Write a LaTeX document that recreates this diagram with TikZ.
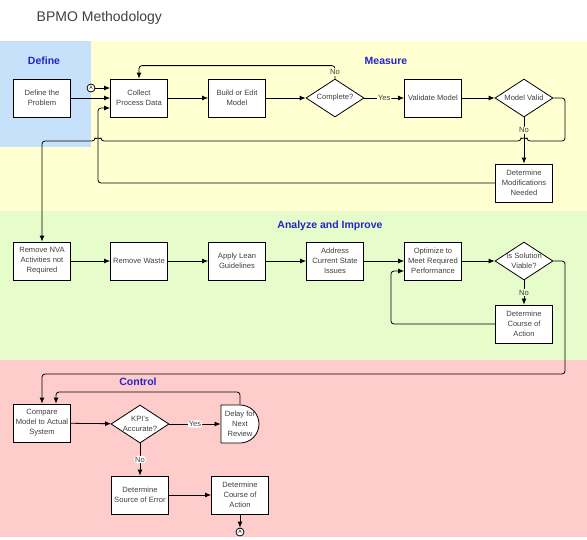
\documentclass[tikz,border=0pt]{standalone}
\usepackage{fontspec}
\setmainfont{Liberation Sans}
\usetikzlibrary{shapes.geometric,arrows.meta}

\definecolor{defblue}{HTML}{C8E1FA}
\definecolor{measyellow}{HTML}{FFFFD2}
\definecolor{anagreen}{HTML}{E6FCCB}
\definecolor{ctrlpink}{HTML}{FFCCCC}
\definecolor{headblue}{HTML}{2424C8}
\definecolor{boxtext}{HTML}{404040}

\begin{document}
\begin{tikzpicture}[x=1pt, y=-1pt, line width=0.8pt,
    stepbox/.style={draw, fill=white, minimum width=57pt, minimum height=38pt, inner sep=1pt,
      align=center, font=\fontsize{7.6}{10}\selectfont, text=boxtext},
    decide/.style={draw, fill=white, diamond, minimum width=58pt, minimum height=38pt, inner sep=0pt},
    dtext/.style={font=\fontsize{7.6}{10}\selectfont, text=boxtext, align=center, inner sep=0pt},
    phase/.style={font=\fontsize{10.5}{12}\selectfont\bfseries, text=headblue},
    answer/.style={font=\fontsize{7.6}{9}\selectfont, text=boxtext, inner sep=1pt},
    conn/.style={draw, circle, fill=white, inner sep=0pt, minimum size=8pt, font=\fontsize{5}{5}\selectfont},
    flow/.style={-{Latex[length=6pt,width=5pt]}, rounded corners=3pt}]

      % phase bands
      \fill [measyellow] (0, 41) rectangle (587, 211);
      \fill [defblue] (0, 41) rectangle (91, 147);
      \fill [anagreen] (0, 211) rectangle (587, 360);
      \fill [ctrlpink] (0, 360) rectangle (587, 537);
      \useasboundingbox (0, 0) rectangle (587, 539);

      \node [anchor=west, font=\fontsize{14}{16}\selectfont, text=black!75] (title) at (33, 18) {BPMO Methodology};

      \node [phase] (define) at (44, 61) {Define};
      \node [phase] (measure) at (386, 61) {Measure};
      \node [phase] (analyze) at (330, 226) {Analyze and Improve};
      \node [phase] (control) at (138, 382) {Control};

      % define and measure
      \node [stepbox] (problem) at (42, 98) {Define the\\Problem};
      \node [stepbox] (collect) at (139, 98) {Collect\\Process Data};
      \node [stepbox] (build) at (237, 98) {Build or Edit\\Model};
      \node [decide, label={[dtext]center:Complete?}] (complete) at (335, 98) {};
      \node [stepbox] (validate) at (433, 98) {Validate Model};
      \node [decide, label={[dtext]center:Model Valid}] (valid) at (524, 98) {};
      \node [stepbox] (modify) at (524, 183) {Determine\\Modifications\\Needed};
      \node [conn] (ina) at (91, 88) {A};

      % analyze and improve
      \node [stepbox] (nva) at (42, 261) {Remove NVA\\Activities not\\Required};
      \node [stepbox] (waste) at (139, 261) {Remove Waste};
      \node [stepbox] (lean) at (237, 261) {Apply Lean\\Guidelines};
      \node [stepbox] (address) at (335, 261) {Address\\Current State\\Issues};
      \node [stepbox] (optimize) at (433, 261) {Optimize to\\Meet Required\\Performance};
      \node [decide, label={[dtext]center:{Is Solution\\Viable?}}] (viable) at (524, 261) {};
      \node [stepbox] (course) at (524, 324) {Determine\\Course of\\Action};

      % control
      \node [stepbox] (compare) at (42, 423) {Compare\\Model to Actual\\System};
      \node [decide, label={[dtext]center:{KPI's\\Accurate?}}] (kpi) at (140, 424) {};
      \draw [fill=white] (221, 405) -- (240, 405) arc [start angle=90, end angle=-90, radius=19pt] -- (221, 443) -- cycle;
      \node [dtext, minimum width=38pt, minimum height=38pt] (delay) at (240, 424) {Delay for\\Next\\Review};
      \node [stepbox] (source) at (140, 495) {Determine\\Source of Error};
      \node [stepbox] (action) at (240, 495) {Determine\\Course of\\Action};
      \node [conn] (outa) at (240, 532) {A};

      \draw [flow] (ina) -- ([yshift=10pt]collect.west);
      \draw [flow] (problem) -- (collect);
      \draw [flow] (collect) -- (build);
      \draw [flow] (build) -- (complete);
      \draw [flow] (complete) -- node [answer, fill=measyellow] (yes1) {Yes} (validate);
      \draw [flow] (validate) -- (valid);
      \draw [flow] (complete.north) -- node [answer, fill=measyellow] (no1) {No} ++(0, -13) -| (collect.north);
      \draw [flow] (valid) -- node [answer, fill=measyellow, pos=0.28] (no2) {No} (modify);
      \draw [flow] (valid.east) -- (565, 98) -- (565, 141) -- (527, 141) arc [start angle=0, end angle=180, radius=3pt]
        -- (101, 141) arc [start angle=0, end angle=180, radius=3pt] -- (42, 141) -- (nva.north);
      \draw [flow] (modify.west) -- (98, 183) -- (98, 108) -- ([yshift=-10pt]collect.west);

      \draw [flow] (nva) -- (waste);
      \draw [flow] (waste) -- (lean);
      \draw [flow] (lean) -- (address);
      \draw [flow] (address) -- (optimize);
      \draw [flow] (optimize) -- (viable);
      \draw [flow] (viable) -- node [answer, fill=anagreen] (no3) {No} (course);
      \draw [flow] (course.west) -- (391, 324) -- (391, 271) -- ([yshift=-10pt]optimize.west);
      \draw [flow] (viable.east) -- (565, 261) -- (565, 374) -- (42, 374) -- (compare.north);

      \draw [flow] (compare) -- (kpi);
      \draw [flow] (kpi) -- node [answer, fill=white] (yes2) {Yes} (delay);
      \draw [flow] (delay.north) -- (240, 392) -- (56, 392) -- ([xshift=14pt]compare.north);
      \draw [flow] (kpi) -- node [answer, fill=white] (no4) {No} (source);
      \draw [flow] (source) -- (action);
      \draw [flow] (action) -- (outa);
\end{tikzpicture}
\end{document}
